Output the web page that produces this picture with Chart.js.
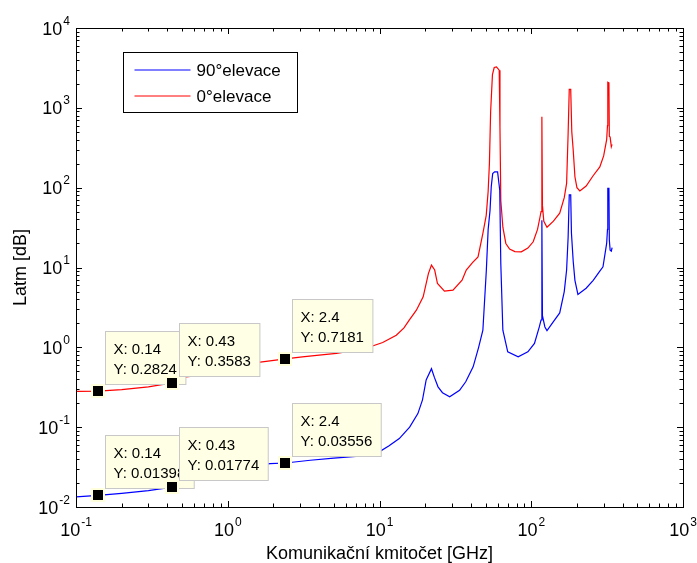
<!DOCTYPE html>
<html>
<head>
<meta charset="utf-8">
<script src="https://cdn.jsdelivr.net/npm/chart.js@4"></script>
<style>
body { margin: 0; background: #fff; }
#wrap { width: 697px; height: 563px; }
</style>
</head>
<body>
<div id="wrap"><canvas id="myChart" width="697" height="563"></canvas></div>
<script>
// 0 deg elevation (red) - frequency in GHz, attenuation in dB
var freq0 = [0.1, 0.14, 0.2, 0.3, 0.43, 0.5, 0.6, 0.8, 1, 1.5, 2.4, 3.1, 4, 5.2, 7, 8.6, 10.5, 12.9, 14.5, 15.7,
    17.5, 19.4, 21, 22, 23.1, 24.1, 26.8, 30.5, 35, 37.3, 41, 44.6, 48, 50.5, 52, 53, 54, 55.5, 57, 59,
    61.5, 62.2, 63, 65, 68, 72, 78, 86, 95, 103, 110, 114, 116, 117.5, 118.5, 121, 127, 140, 154, 165,
    171, 175, 178, 182, 185, 189, 194, 200, 209, 230, 255, 283, 300, 314, 318, 319.5, 325, 327, 331, 337, 341];
var lat0 = [0.28, 0.2824, 0.295, 0.32, 0.3583, 0.42, 0.44, 0.49, 0.54, 0.64, 0.7181, 0.76, 0.8, 0.84, 0.92, 1.01, 1.15, 1.42, 1.75, 2.19,
    2.92, 4.3, 8.4, 10.7, 9.3, 6.3, 5.06, 5.2, 6.95, 9.3, 11.5, 13.6, 26.7, 45, 90, 200, 900, 2600, 3200, 3250,
    2960, 575, 69, 32, 20, 17, 15.8, 15.7, 17.5, 21, 30, 42, 50, 774, 60, 38, 32, 38, 48, 75,
    113, 480, 1700, 1700, 500, 296, 137, 100, 91, 105, 140, 182, 250, 400, 600, 2090, 2050, 440, 430, 326, 349];

// 90 deg elevation (blue)
var freq90 = [0.1, 0.14, 0.2, 0.3, 0.43, 0.5, 0.6, 0.8, 1, 1.5, 1.9, 2.4, 3.5, 5, 7, 9.6, 11.5, 13.5, 15.8, 17.9,
    19.2, 20.3, 22, 23, 24.3, 26, 29, 33.7, 37, 41.4, 45, 48, 50.6, 52, 53.5, 54.5, 55.7, 57.4, 60, 62,
    63, 65, 70, 82, 95, 105, 113, 116, 117.5, 118.5, 123, 127, 140, 154, 165, 171, 175, 178, 182, 184,
    189, 194, 203, 230, 256, 283, 297, 314, 318, 319.5, 325, 327, 331, 337, 341];
var lat90 = [0.0134, 0.01398, 0.0148, 0.016, 0.01774, 0.0195, 0.022, 0.025, 0.028, 0.033, 0.035, 0.03556, 0.0385, 0.041, 0.043, 0.047, 0.058, 0.072, 0.1, 0.148,
    0.22, 0.39, 0.54, 0.42, 0.32, 0.27, 0.24, 0.29, 0.37, 0.57, 1.0, 1.64, 9.3, 30, 52, 103, 150, 158, 158, 93,
    11.2, 1.64, 0.88, 0.76, 0.88, 1.12, 1.8, 2.2, 39, 2.5, 1.8, 1.62, 2.1, 2.7, 5, 9.3, 24, 81, 81, 27,
    12, 6.9, 4.6, 5.5, 6.9, 9, 10.2, 20, 30, 98, 98, 22, 16.5, 16, 17.8];

// data tips (first three on red curve, last three on blue)
var tipFreq = [0.14, 0.43, 2.4, 0.14, 0.43, 2.4];
var tipLat = [0.2824, 0.3583, 0.7181, 0.01398, 0.01774, 0.03556];

var xTitle = 'Komunikační kmitočet [GHz]';
var yTitle = 'Latm [dB]';
var FONT = '"Liberation Sans", Arial, Helvetica, sans-serif';

function toPoints(xs, ys) {
    var pts = [];
    for (var i = 0; i < xs.length; i++) pts.push({x: xs[i], y: ys[i]});
    return pts;
}

// 1..9 x 10^n values between min and max
function logTicks(min, max) {
    var out = [];
    var e0 = Math.floor(Math.log10(min)), e1 = Math.ceil(Math.log10(max));
    for (var e = e0; e <= e1; e++) {
        for (var k = 1; k < 10; k++) {
            var v = Number((k * Math.pow(10, e)).toPrecision(6));
            if (v >= min * 0.999 && v <= max * 1.001) out.push({v: v, major: k === 1, e: e});
        }
    }
    return out;
}

// "10" with superscript exponent; baseline is the baseline of "10"
function drawPow(ctx, exp, x, baseline, align) {
    ctx.font = '18px ' + FONT;
    var wb = ctx.measureText('10').width;
    ctx.font = '12px ' + FONT;
    var we = ctx.measureText(String(exp)).width;
    var left = align === 'center' ? x - (wb + 1 + we) / 2 : x - wb - 1 - we;
    ctx.textAlign = 'left';
    ctx.textBaseline = 'alphabetic';
    ctx.fillStyle = '#000';
    ctx.font = '18px ' + FONT;
    ctx.fillText('10', left, baseline);
    ctx.font = '12px ' + FONT;
    ctx.fillText(String(exp), left + wb + 1, baseline - 10);
}

var matlabLook = {
    id: 'matlabLook',
    afterDatasetsDraw: function(chart) {
        var ctx = chart.ctx, xs = chart.scales.x, ys = chart.scales.y;
        ctx.save();
        var marks = [];
        for (var i = 0; i < tipFreq.length; i++) {
            var px = xs.getPixelForValue(tipFreq[i]);
            var py = ys.getPixelForValue(tipLat[i]);
            var l1 = 'X: ' + tipFreq[i], l2 = 'Y: ' + tipLat[i];
            ctx.font = '15px ' + FONT;
            var w = Math.max(ctx.measureText(l1).width, ctx.measureText(l2).width) + 17;
            var h = 53;
            var bx = Math.round(px + 7) + 0.5, by = Math.round(py - 7 - h) + 0.5;
            ctx.fillStyle = '#ffffe6';
            ctx.strokeStyle = '#c8c8c8';
            ctx.lineWidth = 1;
            ctx.fillRect(bx, by, w, h);
            ctx.strokeRect(bx, by, w, h);
            ctx.fillStyle = '#000';
            ctx.textAlign = 'left';
            ctx.textBaseline = 'alphabetic';
            ctx.fillText(l1, bx + 8, by + 22);
            ctx.fillText(l2, bx + 8, by + 42);
            marks.push([px, py]);
        }
        marks.forEach(function(m) {
            ctx.fillStyle = '#ffffdc';
            ctx.fillRect(Math.round(m[0]) - 7, Math.round(m[1]) - 7, 14, 14);
            ctx.fillStyle = '#000';
            ctx.fillRect(Math.round(m[0]) - 5, Math.round(m[1]) - 5, 10, 10);
        });
        ctx.restore();
    },
    afterDraw: function(chart) {
        var ctx = chart.ctx, a = chart.chartArea, xs = chart.scales.x, ys = chart.scales.y;
        ctx.save();
        ctx.strokeStyle = '#000';
        ctx.lineWidth = 1;
        // frame
        ctx.strokeRect(a.left + 0.5, a.top + 0.5, a.right - a.left, a.bottom - a.top);
        // ticks inside on all sides
        ctx.beginPath();
        logTicks(xs.min, xs.max).forEach(function(t) {
            var x = Math.round(xs.getPixelForValue(t.v)) + 0.5;
            var len = t.major ? 6 : 3.5;
            ctx.moveTo(x, a.bottom); ctx.lineTo(x, a.bottom - len);
            ctx.moveTo(x, a.top); ctx.lineTo(x, a.top + len);
        });
        logTicks(ys.min, ys.max).forEach(function(t) {
            var y = Math.round(ys.getPixelForValue(t.v)) + 0.5;
            var len = t.major ? 6 : 3.5;
            ctx.moveTo(a.left, y); ctx.lineTo(a.left + len, y);
            ctx.moveTo(a.right, y); ctx.lineTo(a.right - len, y);
        });
        ctx.stroke();
        // tick labels
        logTicks(xs.min, xs.max).forEach(function(t) {
            if (t.major) drawPow(ctx, t.e, xs.getPixelForValue(t.v), a.bottom + 28.5, 'center');
        });
        logTicks(ys.min, ys.max).forEach(function(t) {
            if (t.major) drawPow(ctx, t.e, a.left - 6, ys.getPixelForValue(t.v) + 6.5, 'right');
        });
        // axis titles
        ctx.fillStyle = '#000';
        ctx.font = '18px ' + FONT;
        ctx.textAlign = 'center';
        ctx.textBaseline = 'alphabetic';
        ctx.fillText(xTitle, (a.left + a.right) / 2, 559);
        ctx.save();
        ctx.translate(26, (a.top + a.bottom) / 2);
        ctx.rotate(-Math.PI / 2);
        ctx.fillText(yTitle, 0, 0);
        ctx.restore();
        // legend box
        var lx = 123.5, ly = 52.5, lw = 174, lh = 60;
        ctx.fillStyle = '#fff';
        ctx.fillRect(lx, ly, lw, lh);
        ctx.strokeRect(lx, ly, lw, lh);
        ctx.font = '17px ' + FONT;
        ctx.textAlign = 'left';
        ctx.textBaseline = 'middle';
        chart.data.datasets.forEach(function(ds, i) {
            var yy = Math.round(ly + 17 + i * 26.5);
            ctx.strokeStyle = ds.borderColor;
            ctx.beginPath();
            ctx.moveTo(lx + 11, yy); ctx.lineTo(lx + 67, yy);
            ctx.stroke();
            ctx.fillStyle = '#000';
            ctx.fillText(ds.label, lx + 73, yy + 1);
        });
        ctx.restore();
    }
};

var ctx = document.getElementById('myChart').getContext('2d');
var myChart = new Chart(ctx, {
    type: 'line',
    data: {
        datasets: [{
            label: '90°elevace',
            data: toPoints(freq90, lat90),
            borderColor: '#0000ff',
            borderWidth: 1.2,
            pointRadius: 0,
            fill: false
        }, {
            label: '0°elevace',
            data: toPoints(freq0, lat0),
            borderColor: '#ff0000',
            borderWidth: 1.2,
            pointRadius: 0,
            fill: false
        }]
    },
    options: {
        responsive: false,
        animation: false,
        events: [],
        layout: { padding: { left: 76, right: 14, top: 28, bottom: 56 } },
        plugins: { legend: { display: false }, tooltip: { enabled: false } },
        scales: {
            x: { type: 'logarithmic', min: 0.1, max: 1000, display: false },
            y: { type: 'logarithmic', min: 0.01, max: 10000, display: false }
        }
    },
    plugins: [matlabLook]
});
</script>
</body>
</html>
